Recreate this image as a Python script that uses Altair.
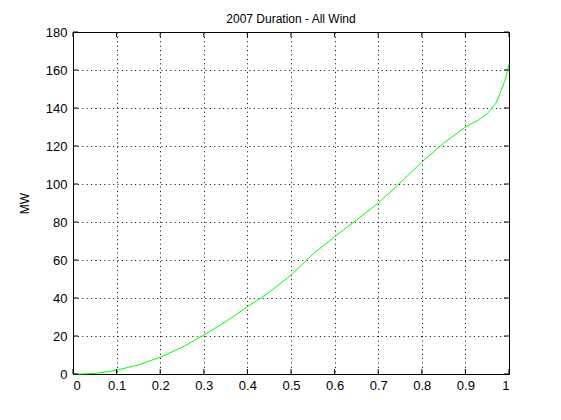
import altair as alt
import pandas as pd

# Duration curve values
frac = [0, 0.02, 0.05, 0.08, 0.1, 0.15, 0.2, 0.25, 0.3, 0.35, 0.4, 0.45, 0.5,
        0.55, 0.6, 0.65, 0.7, 0.75, 0.8, 0.85, 0.9, 0.93, 0.95, 0.97, 0.98,
        0.99, 0.995, 1.0]
mw = [0, 0, 0.3, 1.2, 2, 4.8, 8.8, 14, 20.5, 27.5, 35.4, 43, 52,
      63, 72.3, 81, 90, 100.5, 111.5, 121.5, 130, 133.7, 137, 142.5, 148,
      154, 158, 163]

xticks = [0, 0.1, 0.2, 0.3, 0.4, 0.5, 0.6, 0.7, 0.8, 0.9, 1.0]
yticks = [0, 20, 40, 60, 80, 100, 120, 140, 160, 180]

W, H = 436, 342
FONT = "Liberation Sans"

df = pd.DataFrame({"x": frac, "y": mw})
dx = pd.DataFrame({"t": xticks})
dy = pd.DataFrame({"t": yticks})

xscale = alt.Scale(domain=[0, 1], nice=False)
yscale = alt.Scale(domain=[0, 180], nice=False)

common = dict(grid=True, ticks=False, domain=False, labelOverlap=False,
              gridColor="black", gridDash=[1, 3.4], gridOpacity=1, gridWidth=1,
              labelFont=FONT, labelFontSize=13, labelColor="black",
              titleFont=FONT, titleFontSize=12, titleFontWeight="normal",
              titleColor="black")

xaxis = alt.Axis(values=xticks, format="~g", labelPadding=5, title=None,
                 **common)
yaxis = alt.Axis(values=yticks, labelPadding=6, title="MW", titlePadding=14,
                 **common)

line = alt.Chart(df).mark_line(color="#00FF00", strokeWidth=1).encode(
    x=alt.X("x:Q", scale=xscale, axis=xaxis),
    y=alt.Y("y:Q", scale=yscale, axis=yaxis),
)

tb = alt.Chart(dx).mark_rule(color="black", strokeWidth=1).encode(
    x=alt.X("t:Q", scale=xscale, axis=xaxis), y=alt.value(H), y2=alt.value(H - 5))
tt = alt.Chart(dx).mark_rule(color="black", strokeWidth=1).encode(
    x=alt.X("t:Q", scale=xscale, axis=xaxis), y=alt.value(0), y2=alt.value(5))
tl = alt.Chart(dy).mark_rule(color="black", strokeWidth=1).encode(
    y=alt.Y("t:Q", scale=yscale, axis=yaxis), x=alt.value(0), x2=alt.value(5))
tr = alt.Chart(dy).mark_rule(color="black", strokeWidth=1).encode(
    y=alt.Y("t:Q", scale=yscale, axis=yaxis), x=alt.value(W - 5), x2=alt.value(W))

chart = alt.layer(line, tb, tt, tl, tr).properties(
    width=W, height=H,
    title=alt.Title("2007 Duration - All Wind", font=FONT, fontSize=12,
                    fontWeight="normal", color="black", offset=0),
    autosize=alt.AutoSizeParams(type="none"),
    padding={"left": 65, "top": 24, "right": 44, "bottom": 46},
    background="white",
).configure_view(
    stroke="black", strokeWidth=1
)

chart.save("out.html", embed_options={"renderer": "svg", "actions": False})
